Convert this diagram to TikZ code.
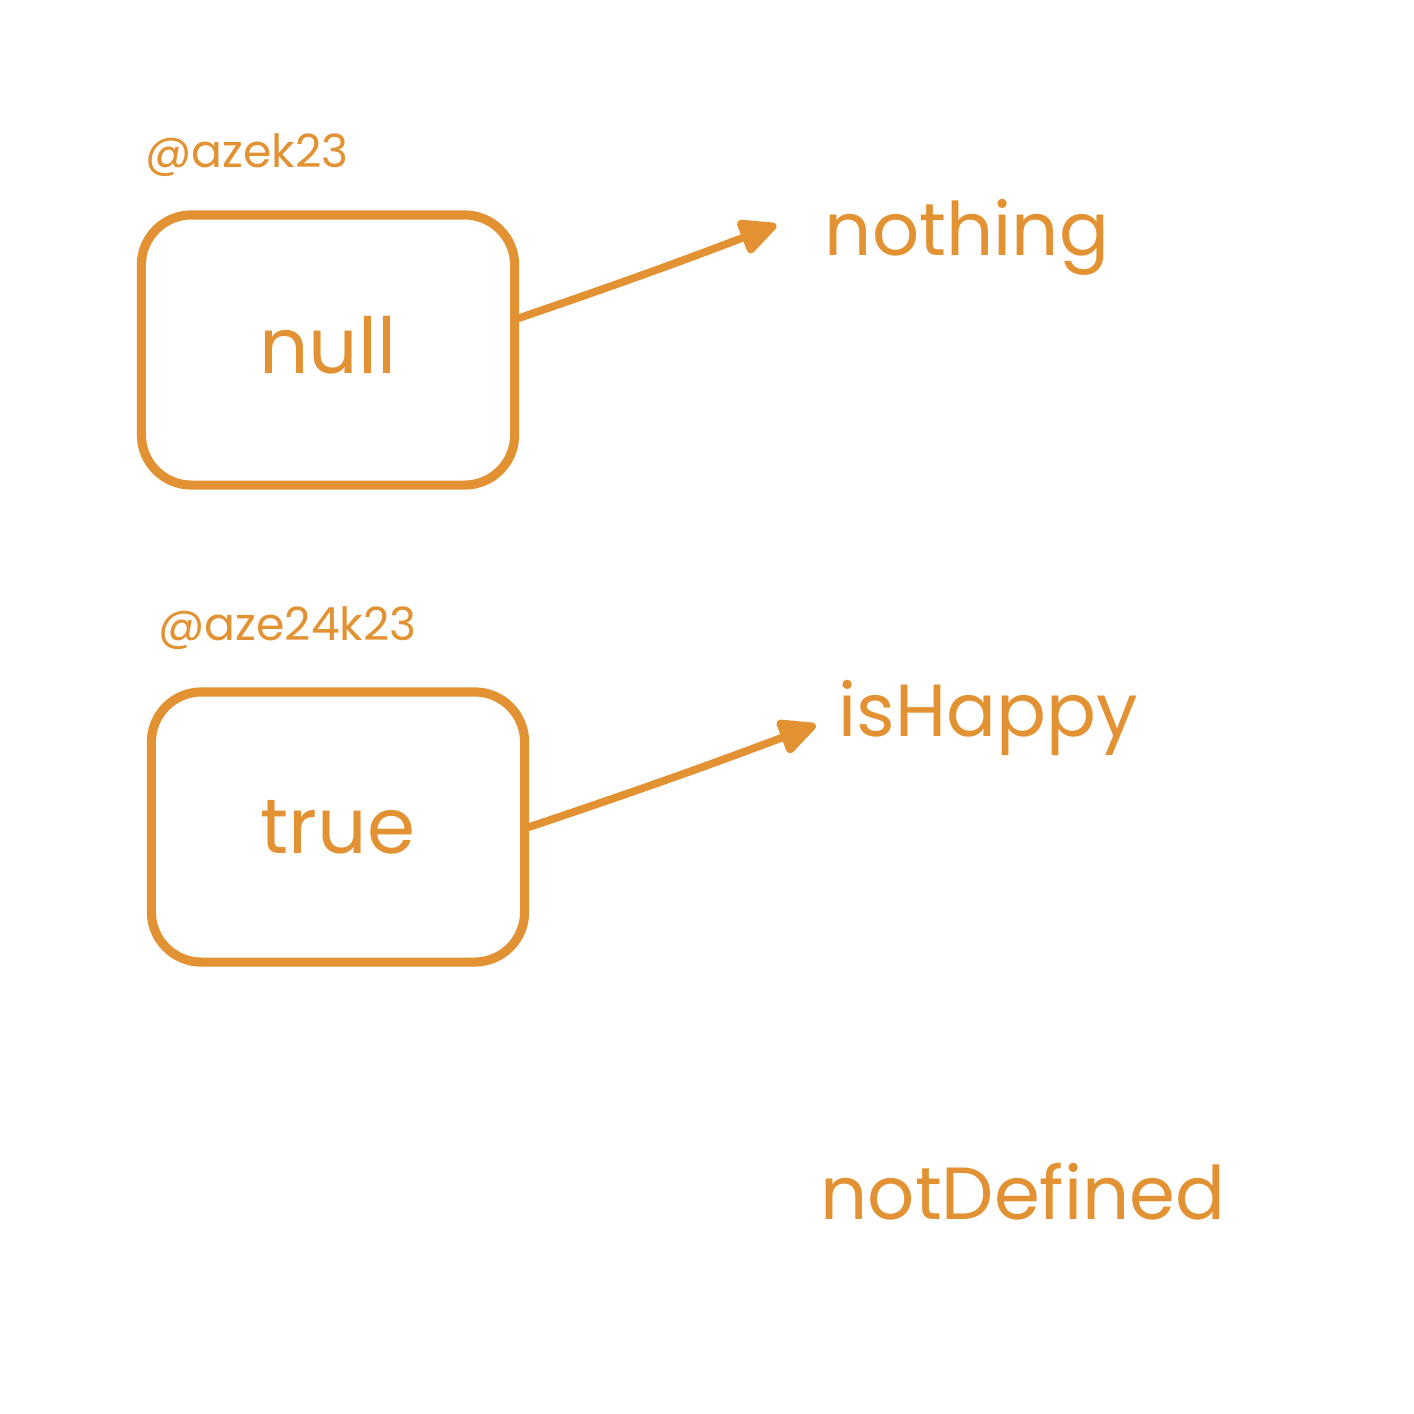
\documentclass[tikz,border=0pt]{standalone}
\usepackage{fontspec}
\setmainfont{Poppins}
\usetikzlibrary{arrows.meta,positioning}
\definecolor{sketchorange}{HTML}{E29232}
\tikzset{
	valuebox/.style={
		rectangle, minimum width=3.73cm, minimum height=2.70cm, rounded corners=5mm,
		line width=2.6pt, draw=sketchorange, text=sketchorange, font=\fontsize{22}{26}\selectfont
	},
	%
	tag/.style={
		inner sep=0pt, text=sketchorange, font=\fontsize{13}{15}\selectfont
	},
	%
	word/.style={
		inner sep=0pt, text=sketchorange, font=\fontsize{21}{25}\selectfont
	},
	%
	pointer/.style={
		line width=2.2pt, draw=sketchorange, line cap=round,
		-{Triangle[length=4.2mm, width=3.8mm, round]}
	}
}
\begin{document}
\begin{tikzpicture}[x=0.01cm, y=-0.01cm]
    \useasboundingbox[fill=white] (0,0) rectangle (1414,1414);
    \node(null)[valuebox, text depth=0.1cm] at (328,350){null};
    \node(azek)[tag, above right=0.33cm and 0.08cm of null.north west]{@azek23};
    \node(nothing)[word] at (967,237){nothing};
    \draw[pointer] ([yshift=0.32cm]null.east) to [bend right=1] ([xshift=-0.48cm, yshift=0.12cm]nothing.west);
    \node(true)[valuebox] at (338,827){true};
    \node(azeb)[tag, above right=0.37cm and 0.11cm of true.north west]{@aze24k23};
    \node(happy)[word] at (988,718){isHappy};
    \draw[pointer] (true.east) to [bend right=1] ([xshift=-0.22cm, yshift=-0.07cm]happy.west);
    \node(undef)[word] at (1023,1192){notDefined};
\end{tikzpicture}
\end{document}
